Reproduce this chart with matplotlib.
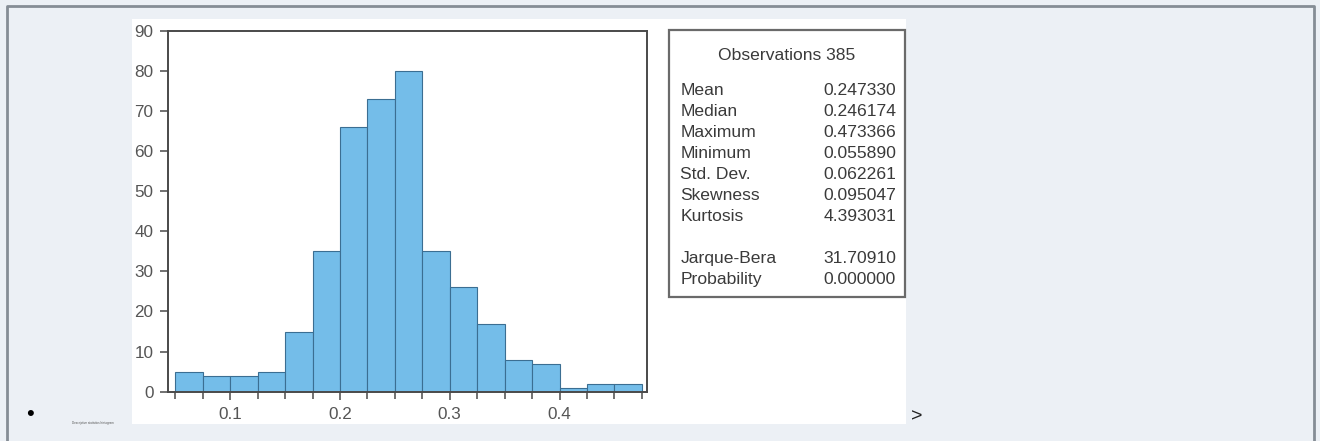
import matplotlib
matplotlib.use("Agg")
import matplotlib.pyplot as plt
from matplotlib.patches import Rectangle
from matplotlib.ticker import FixedLocator, NullFormatter
import numpy as np

# ---- data ----
bin_edges = [0.050, 0.075, 0.100, 0.125, 0.150, 0.175, 0.200, 0.225, 0.250,
             0.275, 0.300, 0.325, 0.350, 0.375, 0.400, 0.425, 0.450, 0.475]
counts = [5, 4, 4, 5, 15, 35, 66, 73, 80, 35, 26, 17, 8, 7, 1, 2, 2]
x_ticks = [0.1, 0.2, 0.3, 0.4]
x_tick_labels = ["0.1", "0.2", "0.3", "0.4"]
y_ticks = [0, 10, 20, 30, 40, 50, 60, 70, 80, 90]

stats_title = "Observations 385"
stat_names = ["Mean", "Median", "Maximum", "Minimum", "Std. Dev.",
              "Skewness", "Kurtosis", "", "Jarque-Bera", "Probability"]
stat_values = ["0.247330", "0.246174", "0.473366", "0.055890", "0.062261",
               "0.095047", "4.393031", "", "31.70910", "0.000000"]

# ---- figure ----
W, H = 1320, 441
plt.rcParams['font.family'] = ['Liberation Sans', 'DejaVu Sans']
fig = plt.figure(figsize=(W / 100, H / 100), dpi=100)
fig.patch.set_facecolor("#ECF0F5")


def fx(x):
    return x / W


def fy(y):
    return 1 - y / H


def rect(x0, y0, x1, y1, **kw):
    r = Rectangle((fx(x0), fy(y1)), fx(x1) - fx(x0), fy(y0) - fy(y1),
                  transform=fig.transFigure, **kw)
    fig.patches.append(r)
    return r


# page border (left, top, right)
fig.add_artist(plt.Line2D([fx(7), fx(7), fx(1314), fx(1314)],
                          [fy(445), fy(6), fy(6), fy(445)],
                          transform=fig.transFigure, color="#858D95", lw=2.0,
                          zorder=-2))
# white picture
rect(132, 19, 906, 424, facecolor="white", edgecolor="none", zorder=-1)

# ---- histogram axes ----
axL, axR, axT, axB = 167.5, 647.0, 30.7, 391.7
ax = fig.add_axes([fx(axL), fy(axB), fx(axR) - fx(axL), fy(axT) - fy(axB)])
ax.set_zorder(1)
ax.set_facecolor("white")
widths = np.diff(bin_edges)
ax.bar(bin_edges[:-1], counts, width=widths, align="edge",
       color="#74BDE9", edgecolor="#3B6E92", linewidth=0.8, zorder=2)
ax.set_xlim(0.0429, 0.4797)
ax.set_ylim(0, 90)
ax.set_yticks(y_ticks)
ax.set_xticks(x_ticks)
ax.set_xticklabels(x_tick_labels)
ax.xaxis.set_minor_locator(FixedLocator(bin_edges))
ax.xaxis.set_minor_formatter(NullFormatter())
for s in ax.spines.values():
    s.set_color("#4A4A4A")
    s.set_linewidth(1.4)
ax.tick_params(axis="both", which="major", direction="out", length=6,
               width=1.1, color="#4A4A4A", labelcolor="#555555",
               labelsize=12.3, pad=4)
ax.tick_params(axis="x", which="minor", direction="out", length=5,
               width=1.1, color="#4A4A4A")
ax.tick_params(axis="x", which="major", pad=5)

# ---- statistics box ----
bx0, by0, bx1, by1 = 669, 30, 905, 297
rect(bx0, by0, bx1, by1, facecolor="white", edgecolor="#6A6A6A", lw=1.6,
     zorder=3)
tcol = "#3A3A3A"
fs = 12.6
fig.text(fx((bx0 + bx1) / 2), fy(55.5), stats_title, ha="center", va="center",
         fontsize=fs, color=tcol, zorder=4)
row0, step = 91.0, 20.9
for i, (n, v) in enumerate(zip(stat_names, stat_values)):
    y = row0 + i * step
    if n:
        fig.text(fx(680.5), fy(y), n, ha="left", va="center",
                 fontsize=fs, color=tcol, zorder=4)
        fig.text(fx(896), fy(y), v, ha="right", va="center",
                 fontsize=fs, color=tcol, zorder=4)

# ---- page decorations ----
fig.text(fx(30), fy(415), "\u2022", ha="center", va="center", fontsize=16,
         color="black")
fig.text(fx(72), fy(422.7), "Descriptive statistics histogram", ha="left",
         va="center", fontsize=2.2, color="#555555")
fig.text(fx(911), fy(416.5), ">", ha="left", va="center", fontsize=14,
         color="#222222")

fig.savefig("out.png", dpi=100, facecolor=fig.get_facecolor())
